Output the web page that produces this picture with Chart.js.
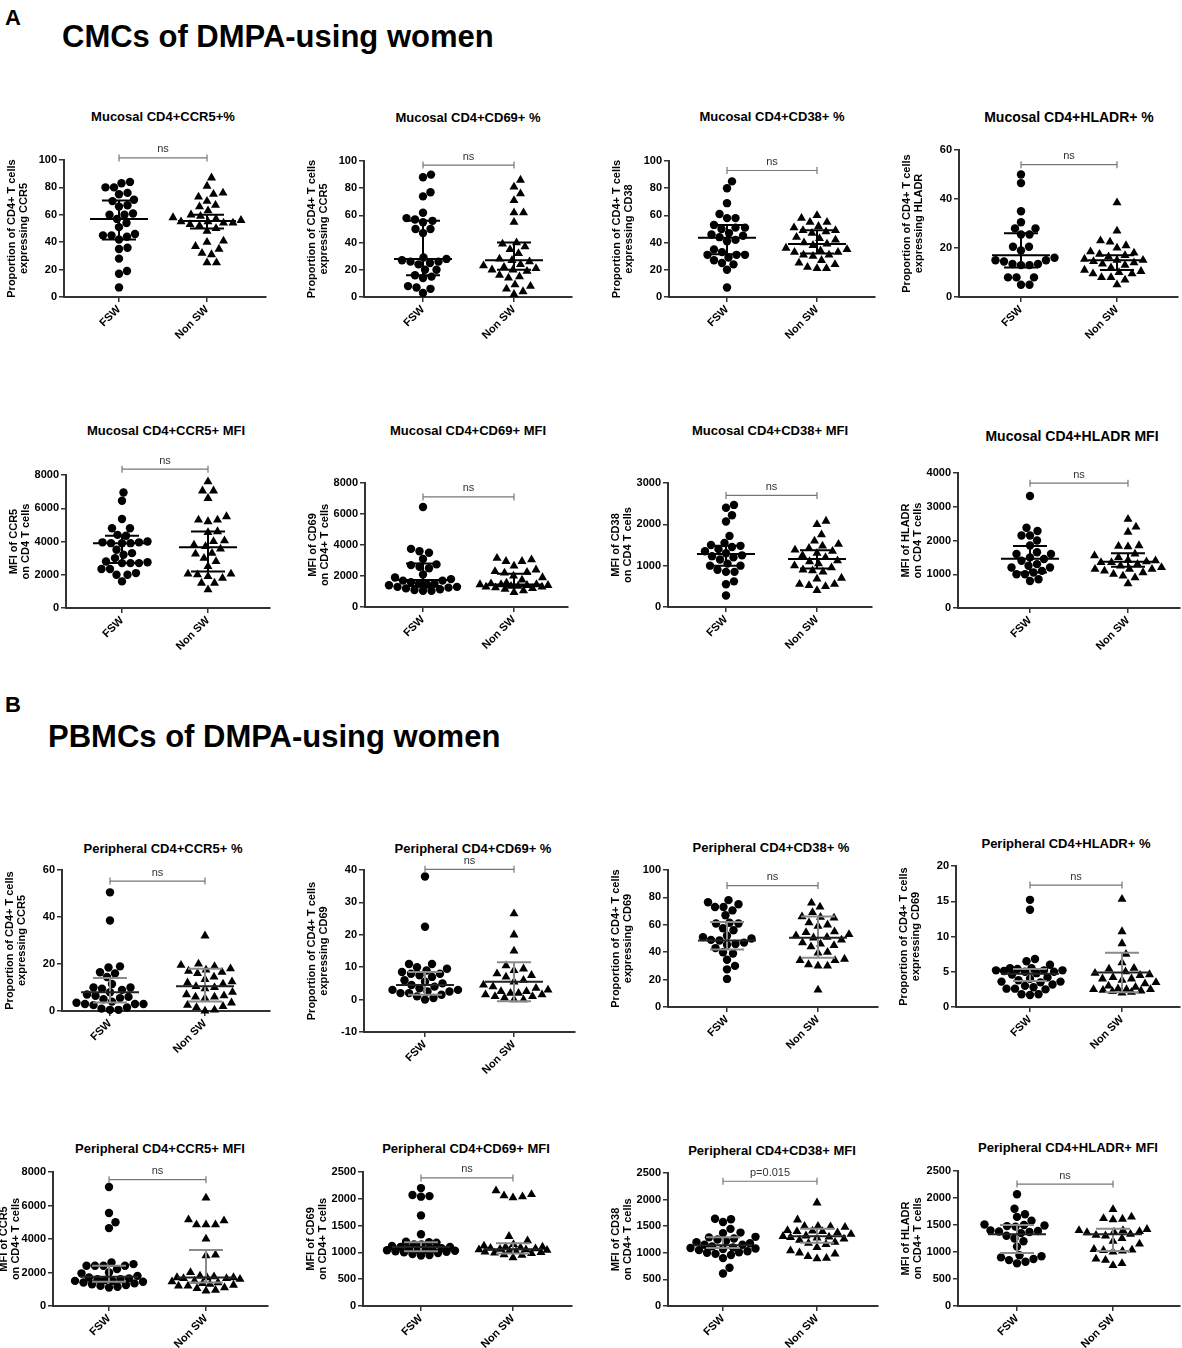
<!DOCTYPE html>
<html>
<head>
<meta charset="utf-8">
<script src="https://cdn.jsdelivr.net/npm/chart.js@4.4.0/dist/chart.umd.min.js"></script>
<style>
  body { margin: 0; background: #fff; width: 1182px; height: 1348px; position: relative; overflow: hidden;
         font-family: Arial, "Liberation Sans", sans-serif; }
  .hdr { position: absolute; font-weight: bold; color: #000; white-space: nowrap; line-height: 1; }
  .ttl { position: absolute; font-weight: bold; color: #000; white-space: nowrap; transform: translate(-50%, -50%); }
  canvas { position: absolute; }
</style>
</head>
<body>
<div class="hdr" style="left:5px;top:7px;font-size:22px">A</div>
<div class="hdr" style="left:62px;top:21px;font-size:31px">CMCs of DMPA-using women</div>
<div class="hdr" style="left:5px;top:694px;font-size:22px">B</div>
<div class="hdr" style="left:48px;top:721px;font-size:31px">PBMCs of DMPA-using women</div>
<div id="charts"></div>

<script>
const categories = ['FSW', 'Non SW'];

// values; stats = [median, q1, q3] for FSW then Non SW
const mucCcr5PctFsw = [84, 83, 80, 80, 76, 75, 71, 70, 67, 66, 61, 60, 60, 57, 54, 51, 46, 45, 45, 44, 42, 36, 35, 28, 19, 17, 7];
const mucCcr5PctNon = [87, 81, 76, 75, 73, 70, 67, 66, 63, 60, 59, 58, 57, 56, 55, 55, 54, 54, 53, 52, 50, 48, 41, 40, 37, 35, 32, 31, 25, 25];
const mucCcr5PctStats = [[57, 42, 70.5], [55.5, 50, 60]];

const mucCd69PctFsw = [90, 88, 77, 74, 62, 58, 57, 56, 55, 50, 50, 47, 29, 28, 27, 26, 26, 25, 24, 20, 20, 16, 15, 14, 8, 7, 6, 3];
const mucCd69PctNon = [86, 81, 76, 71, 62, 62, 55, 40, 39, 37, 35, 32, 28, 27, 26, 24, 23, 22, 21, 20, 20, 19, 16, 15, 14, 9, 8, 6, 4, 2];
const mucCd69PctStats = [[28, 16, 56], [27, 20, 40]];

const mucCd38PctFsw = [85, 80, 69, 61, 58, 58, 53, 51, 51, 50, 47, 46, 45, 44, 42, 41, 35, 33, 31, 31, 31, 29, 27, 25, 24, 20, 7];
const mucCd38PctNon = [60, 58, 55, 55, 52, 51, 49, 49, 48, 47, 44, 43, 42, 40, 39, 38, 36, 35, 34, 33, 33, 31, 31, 30, 27, 25, 24, 22, 21, 21];
const mucCd38PctStats = [[43.5, 31.5, 53], [39, 32, 49]];

const mucHladrPctFsw = [50, 46.5, 35, 30.5, 28, 28, 25.5, 25.5, 20.5, 20.5, 19, 16, 15, 15, 14.5, 13.5, 13.5, 13, 13, 8, 8, 8, 5, 5];
const mucHladrPctNon = [38.5, 27, 23, 22.5, 21, 20, 18.5, 18, 17.5, 17, 16.5, 15.5, 15, 15, 14.5, 14, 13.5, 13, 12, 11, 10.5, 10, 9.5, 9.5, 8, 8, 7, 5];
const mucHladrPctStats = [[17, 12, 26], [15, 11, 17]];

const mucCcr5MfiFsw = [6950, 6450, 5350, 4800, 4800, 4400, 4350, 4000, 3950, 3950, 3900, 3900, 3900, 3500, 3300, 3200, 3000, 2800, 2750, 2700, 2700, 2700, 2350, 2350, 2100, 2000, 2000, 1600];
const mucCcr5MfiNon = [7600, 7050, 7050, 6600, 5500, 5300, 5300, 5200, 4600, 4550, 4050, 4000, 3800, 3700, 3550, 3300, 3250, 3000, 2800, 2500, 2050, 2050, 2000, 1900, 1800, 1500, 1500, 1100];
const mucCcr5MfiStats = [[3900, 2700, 4350], [3650, 2200, 4600]];

const mucCd69MfiFsw = [6450, 3750, 3600, 3500, 3100, 2750, 2700, 2600, 2500, 2100, 1900, 1800, 1700, 1700, 1600, 1500, 1500, 1450, 1400, 1300, 1300, 1250, 1200, 1150, 1100, 1050, 1050];
const mucCd69MfiNon = [3150, 3050, 2950, 2950, 2650, 2400, 2300, 2250, 2200, 2000, 1900, 1750, 1550, 1500, 1450, 1450, 1450, 1400, 1400, 1350, 1350, 1300, 1300, 1250, 1200, 1150, 1050, 950];
const mucCd69MfiStats = [[1750, 1350, 2800], [1450, 1350, 2150]];

const mucCd38MfiFsw = [2470, 2400, 2220, 2070, 1720, 1550, 1500, 1480, 1450, 1400, 1350, 1300, 1250, 1230, 1200, 1150, 1050, 1000, 1000, 900, 850, 850, 620, 550, 280];
const mucCd38MfiNon = [2080, 2000, 1750, 1600, 1520, 1480, 1420, 1380, 1350, 1300, 1250, 1200, 1120, 1100, 1050, 1000, 950, 900, 880, 850, 700, 680, 550, 550, 520, 500, 400];
const mucCd38MfiStats = [[1280, 1000, 1480], [1160, 930, 1370]];

const mucHladrMfiFsw = [3320, 2380, 2280, 2150, 2150, 2000, 1850, 1650, 1600, 1600, 1500, 1450, 1400, 1300, 1250, 1200, 1200, 1100, 1050, 1000, 1000, 850, 800];
const mucHladrMfiNon = [2630, 2400, 2250, 1850, 1830, 1820, 1600, 1550, 1500, 1420, 1400, 1370, 1350, 1350, 1300, 1250, 1200, 1150, 1150, 1150, 1100, 1050, 1000, 950, 900, 720];
const mucHladrMfiStats = [[1460, 1050, 1840], [1370, 1220, 1620]];

const perCcr5PctFsw = [50.5, 38.5, 19, 18.5, 16.5, 16, 14.5, 11.5, 10, 10, 9.5, 9, 8, 7, 6.5, 6, 5.5, 5, 4, 3.5, 3, 3, 3, 2.5, 1.5, 1, 0.5, 0.5];
const perCcr5PctNon = [32, 20, 19.5, 19, 18, 17.5, 17, 16.5, 16, 14.5, 13.5, 12.5, 12, 11.5, 10.5, 10, 9.5, 8, 7, 6.5, 6, 6, 5.5, 3.5, 2.5, 2, 1.5, 0.5, 0];
const perCcr5PctStats = [[8, 3.6, 14], [10.5, 4, 18]];

const perCd69PctFsw = [38, 22.5, 11, 11, 10, 9.5, 9, 8.5, 8, 8, 7.5, 7, 6, 5.5, 5, 4.5, 4, 3.5, 3, 3, 2.5, 2.5, 2, 2, 1.5, 1, 0.5, 0];
const perCd69PctNon = [26.5, 20, 15, 10.5, 9.5, 9, 8, 7.5, 7, 6, 5.5, 4.5, 4, 3.5, 3, 2.5, 2.5, 2, 2, 1.5, 1.5, 1, 1, 0.5, 0, 0];
const perCd69PctStats = [[4.5, 1.5, 8.5], [5.5, -0.5, 11.5]];

const perCd38PctFsw = [78, 76.5, 75, 73, 73, 70.5, 67, 61.5, 61, 61, 57.5, 56, 52, 51, 50, 49, 48.5, 47, 46, 45.5, 43, 40, 39, 34.5, 30, 27.5, 20.5];
const perCd38PctNon = [76, 73, 69, 66, 65.5, 65, 61.5, 60, 59, 55, 54.5, 53, 52, 51, 50.5, 49, 47, 46, 45, 44, 40, 39.5, 35, 34, 34, 31, 30, 30, 12.5];
const perCd38PctStats = [[48.5, 42, 62], [50.5, 36, 66]];

const perHladrPctFsw = [15.2, 13.8, 6.8, 6.5, 6, 5.5, 5.5, 5.4, 5.2, 5.2, 5.2, 5.1, 5, 5, 4.8, 4.6, 4.2, 4, 3.8, 3.6, 3.6, 3.5, 3.2, 3, 2.8, 2.6, 2.6, 2.5, 1.8, 1.8, 1.7];
const perHladrPctNon = [15.3, 10.7, 9, 7.5, 6.3, 5.5, 5.4, 5, 4.8, 4.6, 4.5, 4.2, 4, 4, 3.8, 3.5, 3.3, 3, 2.8, 2.6, 2.5, 2.5, 2.5, 2.4, 2.3, 2.2, 2.1, 2];
const perHladrPctStats = [[4.7, 3.7, 5.4], [4.9, 2.1, 7.7]];

const perCcr5MfiFsw = [7100, 5550, 5000, 4650, 2600, 2500, 2400, 2400, 2400, 2400, 2200, 2000, 1950, 1800, 1700, 1650, 1600, 1600, 1550, 1500, 1500, 1450, 1400, 1350, 1300, 1250, 1200, 1150, 1100];
const perCcr5MfiNon = [6450, 5150, 5100, 4850, 4850, 4850, 4000, 3050, 3000, 2000, 1800, 1750, 1700, 1700, 1700, 1650, 1650, 1600, 1500, 1450, 1400, 1350, 1300, 1250, 1200, 1200, 1100, 1050, 950, 900];
const perCcr5MfiStats = [[1750, 1450, 2400], [1700, 1400, 3350]];

const perCd69MfiFsw = [2200, 2070, 2050, 2040, 1690, 1340, 1200, 1190, 1180, 1150, 1150, 1120, 1100, 1100, 1080, 1070, 1060, 1050, 1050, 1040, 1030, 1020, 1010, 1000, 990, 970, 950, 940];
const perCd69MfiNon = [2150, 2080, 2060, 2040, 2020, 1300, 1220, 1150, 1120, 1100, 1100, 1090, 1080, 1070, 1060, 1050, 1050, 1040, 1030, 1020, 1010, 1000, 990, 980, 960, 950, 900];
const perCd69MfiStats = [[1100, 1020, 1190], [1060, 980, 1170]];

const perCd38MfiFsw = [1640, 1630, 1580, 1450, 1380, 1370, 1300, 1290, 1270, 1250, 1220, 1200, 1180, 1150, 1150, 1120, 1100, 1090, 1080, 1070, 1050, 1030, 1010, 1000, 980, 960, 900, 720, 610];
const perCd38MfiNon = [1940, 1620, 1500, 1500, 1490, 1480, 1420, 1410, 1400, 1400, 1380, 1350, 1320, 1310, 1300, 1290, 1280, 1260, 1240, 1200, 1180, 1160, 1100, 1040, 1000, 980, 930, 900, 890];
const perCd38MfiStats = [[1140, 1090, 1290], [1310, 1190, 1450]];

const perHladrMfiFsw = [2070, 1800, 1700, 1650, 1580, 1510, 1500, 1490, 1480, 1470, 1400, 1390, 1380, 1370, 1350, 1300, 1250, 1200, 1100, 940, 920, 900, 870, 850, 820, 790];
const perHladrMfiNon = [1790, 1650, 1620, 1610, 1600, 1420, 1400, 1400, 1380, 1370, 1360, 1330, 1310, 1300, 1250, 1200, 1150, 1050, 1040, 1030, 1020, 1000, 870, 850, 790, 750];
const perHladrMfiStats = [[1330, 980, 1500], [1330, 1020, 1430]];

// y axis [min, max, step] per panel
const yTicksPct100 = [0, 100, 20];
const yTicksPct60 = [0, 60, 20];
const yTicksMfi8000 = [0, 8000, 2000];
const yTicksMfi3000 = [0, 3000, 1000];
const yTicksMfi4000 = [0, 4000, 1000];
const yTicksPct40 = [-10, 40, 10];
const yTicksPct20 = [0, 20, 5];
const yTicksMfi2500 = [0, 2500, 500];

const propLabel = 'Proportion of CD4+ T cells';
const panels = [
  { title: 'Mucosal CD4+CCR5+%', tx: 163, ty: 116, ylab: [propLabel, 'expressing CCR5'], fsw: mucCcr5PctFsw, non: mucCcr5PctNon, stats: mucCcr5PctStats, yt: yTicksPct100, sig: 101.5, sigText: 'ns',
    L: 64, T: 160, R: 266, B: 297, xF: 119, xN: 207 },
  { title: 'Mucosal CD4+CD69+ %', tx: 468, ty: 117, ylab: [propLabel, 'expressing CCR5'], fsw: mucCd69PctFsw, non: mucCd69PctNon, stats: mucCd69PctStats, yt: yTicksPct100, sig: 97, sigText: 'ns',
    L: 364, T: 161, R: 572, B: 297, xF: 423, xN: 514 },
  { title: 'Mucosal CD4+CD38+ %', tx: 772, ty: 116, ylab: [propLabel, 'expressing CD38'], fsw: mucCd38PctFsw, non: mucCd38PctNon, stats: mucCd38PctStats, yt: yTicksPct100, sig: 93, sigText: 'ns',
    L: 669, T: 161, R: 875, B: 297, xF: 727, xN: 817 },
  { title: 'Mucosal CD4+HLADR+ %', tx: 1069, ty: 117, fs: 14, ylab: [propLabel, 'expressing HLADR'], fsw: mucHladrPctFsw, non: mucHladrPctNon, stats: mucHladrPctStats, yt: yTicksPct60, sig: 54, sigText: 'ns',
    L: 959, T: 150, R: 1178, B: 297, xF: 1021, xN: 1117 },

  { title: 'Mucosal CD4+CCR5+ MFI', tx: 166, ty: 430, ylab: ['MFI of CCR5', 'on CD4 T cells'], fsw: mucCcr5MfiFsw, non: mucCcr5MfiNon, stats: mucCcr5MfiStats, yt: yTicksMfi8000, sig: 8350, sigText: 'ns',
    L: 66, T: 475, R: 270, B: 608, xF: 122, xN: 208 },
  { title: 'Mucosal CD4+CD69+ MFI', tx: 468, ty: 430, ylab: ['MFI of CD69', 'on CD4+ T cells'], fsw: mucCd69MfiFsw, non: mucCd69MfiNon, stats: mucCd69MfiStats, yt: yTicksMfi8000, sig: 7100, sigText: 'ns',
    L: 365, T: 483, R: 568, B: 607, xF: 423, xN: 514 },
  { title: 'Mucosal CD4+CD38+ MFI', tx: 770, ty: 430, ylab: ['MFI of CD38', 'on CD4 T cells'], fsw: mucCd38MfiFsw, non: mucCd38MfiNon, stats: mucCd38MfiStats, yt: yTicksMfi3000, sig: 2700, sigText: 'ns',
    L: 668, T: 483, R: 872, B: 607, xF: 726, xN: 817 },
  { title: 'Mucosal CD4+HLADR MFI', tx: 1072, ty: 436, fs: 14, ylab: ['MFI of HLADR', 'on CD4 T cells'], fsw: mucHladrMfiFsw, non: mucHladrMfiNon, stats: mucHladrMfiStats, yt: yTicksMfi4000, sig: 3700, sigText: 'ns',
    L: 958, T: 473, R: 1180, B: 608, xF: 1030, xN: 1128 },

  { title: 'Peripheral CD4+CCR5+ %', tx: 163, ty: 848, ylab: [propLabel, 'expressing CCR5'], fsw: perCcr5PctFsw, non: perCcr5PctNon, stats: perCcr5PctStats, yt: yTicksPct60, sig: 55.3, sigText: 'ns', grey: true,
    L: 62, T: 870, R: 270, B: 1011, xF: 110, xN: 205 },
  { title: 'Peripheral CD4+CD69+ %', tx: 473, ty: 848, ylab: [propLabel, 'expressing CD69'], fsw: perCd69PctFsw, non: perCd69PctNon, stats: perCd69PctStats, yt: yTicksPct40, sig: 40.2, sigText: 'ns', grey: true,
    L: 364, T: 870, R: 575, B: 1032, xF: 425, xN: 514 },
  { title: 'Peripheral CD4+CD38+ %', tx: 771, ty: 847, ylab: [propLabel, 'expressing CD69'], fsw: perCd38PctFsw, non: perCd38PctNon, stats: perCd38PctStats, yt: yTicksPct100, sig: 88.6, sigText: 'ns', grey: true,
    L: 668, T: 870, R: 878, B: 1007, xF: 727, xN: 818 },
  { title: 'Peripheral CD4+HLADR+ %', tx: 1066, ty: 843, ylab: [propLabel, 'expressing CD69'], fsw: perHladrPctFsw, non: perHladrPctNon, stats: perHladrPctStats, yt: yTicksPct20, sig: 17.3, sigText: 'ns', grey: true,
    L: 956, T: 866, R: 1180, B: 1007, xF: 1030, xN: 1122 },

  { title: 'Peripheral CD4+CCR5+ MFI', tx: 160, ty: 1148, yw: 55, ylab: ['MFI of CCR5', 'on CD4+ T cells'], fsw: perCcr5MfiFsw, non: perCcr5MfiNon, stats: perCcr5MfiStats, yt: yTicksMfi8000, sig: 7540, sigText: 'ns', grey: true,
    L: 53, T: 1172, R: 268, B: 1306, xF: 109, xN: 206 },
  { title: 'Peripheral CD4+CD69+ MFI', tx: 466, ty: 1148, ylab: ['MFI of CD69', 'on CD4+ T cells'], fsw: perCd69MfiFsw, non: perCd69MfiNon, stats: perCd69MfiStats, yt: yTicksMfi2500, sig: 2390, sigText: 'ns', grey: true,
    L: 363, T: 1172, R: 572, B: 1306, xF: 421, xN: 513 },
  { title: 'Peripheral CD4+CD38+ MFI', tx: 772, ty: 1150, ylab: ['MFI of CD38', 'on CD4+ T cells'], fsw: perCd38MfiFsw, non: perCd38MfiNon, stats: perCd38MfiStats, yt: yTicksMfi2500, sig: 2345, sigText: 'p=0.015', grey: true,
    L: 668, T: 1173, R: 878, B: 1306, xF: 723, xN: 817 },
  { title: 'Peripheral CD4+HLADR+ MFI', tx: 1068, ty: 1147, ylab: ['MFI of HLADR', 'on CD4+ T cells'], fsw: perHladrMfiFsw, non: perHladrMfiNon, stats: perHladrMfiStats, yt: yTicksMfi2500, sig: 2257, sigText: 'ns', grey: true,
    L: 958, T: 1171, R: 1180, B: 1306, xF: 1017, xN: 1113 }
];

const FONT = 'Arial, "Liberation Sans", sans-serif';
const Y_W = 58, PAD_TOP = 50, X_H = 60, PAD_R = 8;
const SWARM_HALF = 34;

// spread points sideways so they do not overlap (pixel space), capped width
function swarm(values, pxPerY, minDist) {
  const order = values.map((v, i) => i).sort((a, b) => values[a] - values[b]);
  const placed = [];
  const off = new Array(values.length).fill(0);
  order.forEach(i => {
    const py = values[i] * pxPerY;
    let best = 0, bestD = -1;
    for (let k = 0; k <= SWARM_HALF * 4; k++) {
      const c = k === 0 ? 0 : (k % 2 ? 1 : -1) * Math.ceil(k / 2) * 0.5;
      let d = Infinity;
      placed.forEach(p => { d = Math.min(d, Math.hypot(p.x - c, p.y - py)); });
      if (d >= minDist) { best = c; bestD = d; break; }
      if (d > bestD) { bestD = d; best = c; }
    }
    off[i] = best;
    placed.push({ x: best, y: py });
  });
  return off;
}

const bracketPlugin = {
  id: 'bracket',
  afterDatasetsDraw(chart, args, opts) {
    const { ctx, scales: { x, y } } = chart;
    const x1 = x.getPixelForValue(1), x2 = x.getPixelForValue(2), yy = y.getPixelForValue(opts.value);
    ctx.save();
    ctx.strokeStyle = opts.color;
    ctx.lineWidth = 1.2;
    ctx.beginPath();
    ctx.moveTo(x1, yy); ctx.lineTo(x2, yy);
    ctx.moveTo(x1, yy - 3.5); ctx.lineTo(x1, yy + 3.5);
    ctx.moveTo(x2, yy - 3.5); ctx.lineTo(x2, yy + 3.5);
    ctx.stroke();
    ctx.fillStyle = '#333';
    ctx.font = '11px ' + FONT;
    ctx.textAlign = 'center';
    ctx.textBaseline = 'bottom';
    ctx.fillText(opts.text, (x1 + x2) / 2, yy - 3);
    ctx.restore();
  }
};

function createPanel(p) {
  const holder = document.getElementById('charts');
  const t = document.createElement('div');
  t.className = 'ttl';
  t.style.left = p.tx + 'px';
  t.style.top = p.ty + 'px';
  t.style.fontSize = (p.fs || 13) + 'px';
  t.textContent = p.title;
  holder.appendChild(t);

  const yw = p.yw || Y_W;
  const w = yw + (p.R - p.L) + PAD_R;
  const h = PAD_TOP + (p.B - p.T) + X_H;
  const cv = document.createElement('canvas');
  cv.width = w; cv.height = h;
  cv.style.width = w + 'px'; cv.style.height = h + 'px';
  cv.style.left = (p.L - yw) + 'px';
  cv.style.top = (p.T - PAD_TOP) + 'px';
  holder.appendChild(cv);

  const [yMin, yMax, yStep] = p.yt;
  const unit = p.xN - p.xF;
  const xMin = 1 - (p.xF - p.L) / unit;
  const xMax = 2 + (p.R - p.xN) / unit;
  const pxPerY = (p.B - p.T) / (yMax - yMin);

  const offF = swarm(p.fsw, pxPerY, 8.4);
  const offN = swarm(p.non, pxPerY, 9.2);
  const fswPts = p.fsw.map((v, i) => ({ x: 1 + offF[i] / unit, y: v }));
  const nonPts = p.non.map((v, i) => ({ x: 2 + offN[i] / unit, y: v }));

  const mh = 29 / unit, ch = 17 / unit;
  const medData = [], iqrData = [];
  p.stats.forEach((s, g) => {
    const cx = g + 1;
    medData.push({ x: cx - mh, y: s[0] }, { x: cx + mh, y: s[0] }, { x: cx, y: null });
    iqrData.push({ x: cx - ch, y: s[2] }, { x: cx + ch, y: s[2] }, { x: cx, y: null },
                 { x: cx, y: s[2] }, { x: cx, y: s[1] }, { x: cx, y: null },
                 { x: cx - ch, y: s[1] }, { x: cx + ch, y: s[1] }, { x: cx, y: null });
  });

  const medColor = p.grey ? '#222' : '#000';
  const iqrColor = p.grey ? '#8a8a8a' : '#000';
  const tickFont = { family: FONT, size: 11, weight: 'bold' };

  new Chart(cv, {
    type: 'scatter',
    data: {
      datasets: [
        { type: 'line', data: medData, borderColor: medColor, borderWidth: 2, pointRadius: 0, spanGaps: false, clip: false },
        { type: 'line', data: iqrData, borderColor: iqrColor, borderWidth: 2, pointRadius: 0, spanGaps: false, clip: false },
        { label: categories[0], data: fswPts, pointStyle: 'circle', pointRadius: 4.2, backgroundColor: '#000', borderWidth: 0, clip: false },
        { label: categories[1], data: nonPts, pointStyle: 'triangle', pointRadius: 5.2, backgroundColor: '#000', borderWidth: 0, clip: false }
      ]
    },
    options: {
      responsive: false,
      animation: false,
      events: [],
      layout: { padding: { top: PAD_TOP, right: PAD_R, left: 0, bottom: 0 } },
      plugins: {
        legend: { display: false },
        tooltip: { enabled: false },
        bracket: { value: p.sig, text: p.sigText, color: '#777' }
      },
      scales: {
        x: {
          type: 'linear', min: xMin, max: xMax,
          afterBuildTicks: s => { s.ticks = [{ value: 1 }, { value: 2 }]; },
          afterFit: s => { s.height = X_H; },
          ticks: { callback: v => categories[v - 1], minRotation: 45, maxRotation: 45, autoSkip: false, font: tickFont, color: '#000', padding: 1 },
          grid: { drawOnChartArea: false, drawTicks: true, tickLength: 5, color: '#333', lineWidth: 1.5 },
          border: { color: '#333', width: 2 }
        },
        y: {
          min: yMin, max: yMax,
          afterFit: s => { s.width = yw; },
          ticks: { stepSize: yStep, callback: v => String(v), font: tickFont, color: '#000', padding: 2 },
          grid: { drawOnChartArea: false, drawTicks: true, tickLength: 5, color: '#333', lineWidth: 1.5 },
          border: { color: '#333', width: 2 },
          title: { display: true, text: p.ylab, font: { family: FONT, size: 11, weight: 'bold', lineHeight: 1.1 }, color: '#000', padding: { top: 0, bottom: 0 } }
        }
      }
    },
    plugins: [bracketPlugin]
  });
}

document.addEventListener('DOMContentLoaded', () => {
  panels.forEach(createPanel);
});
</script>
</body>
</html>
